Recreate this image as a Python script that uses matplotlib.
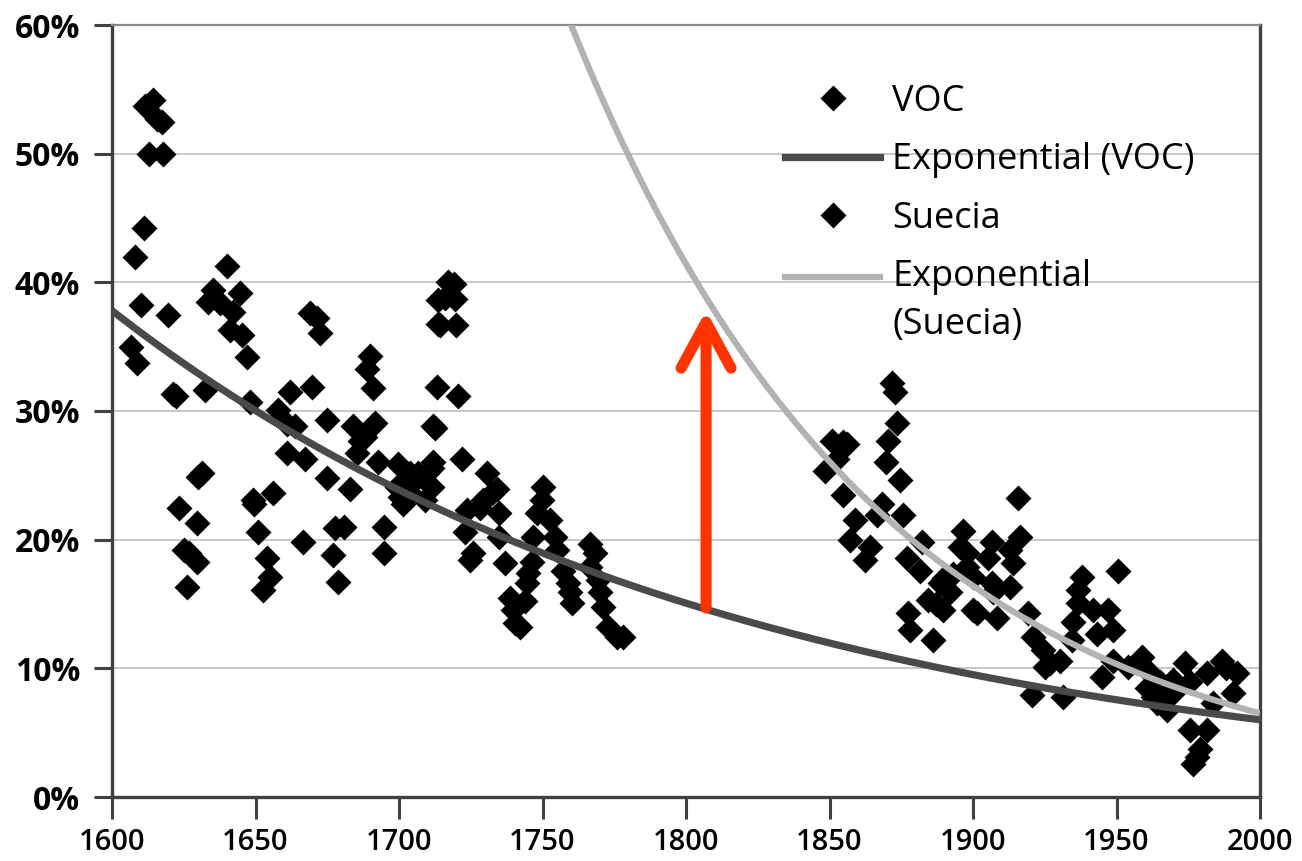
import numpy as np
import matplotlib
matplotlib.use("Agg")
import matplotlib.pyplot as plt
from matplotlib.ticker import PercentFormatter, MultipleLocator
from matplotlib.lines import Line2D
from matplotlib.legend_handler import HandlerLine2D
from matplotlib.patches import FancyArrowPatch, ArrowStyle

plt.rcParams['font.family'] = ['Open Sans', 'DejaVu Sans']

# ---------------- data (year, yield %) ----------------
voc_year = [1606.6, 1608.7, 1608.0, 1611.0, 1610.0, 1611.5, 1614.3, 1615.8, 1617.5, 1613.0,
            1617.8, 1619.5, 1621.3, 1622.3, 1632.4, 1640.0, 1635.2, 1637.6, 1644.6, 1633.5,
            1642.0, 1641.0, 1645.3, 1647.0, 1669.0, 1671.4, 1672.5, 1690.0, 1688.8, 1691.0,
            1669.7, 1662.0, 1648.0, 1657.8, 1663.8, 1675.0, 1684.0, 1688.0, 1691.6, 1685.4,
            1661.0, 1667.2, 1675.0, 1683.0, 1692.7, 1699.6, 1702.8, 1709.8, 1700.3, 1711.8,
            1713.2, 1713.6, 1713.6, 1631.4, 1630.0, 1649.0, 1656.0, 1629.6, 1623.3, 1651.0,
            1666.5, 1677.7, 1681.0, 1694.8, 1677.0, 1694.8, 1678.7, 1654.0, 1655.0, 1652.6,
            1627.0, 1625.0, 1629.6, 1626.0, 1649.5, 1661.0, 1717.0, 1719.0, 1716.0, 1719.5,
            1714.3, 1720.0, 1720.6, 1712.5, 1722.0, 1686.4, 1699.3, 1703.8, 1706.6, 1711.8,
            1711.5, 1709.0, 1701.4, 1730.7, 1732.4, 1723.7, 1728.2, 1723.0, 1725.8, 1724.7,
            1711.5, 1703.8, 1734.0, 1729.3, 1735.0, 1735.0, 1737.0, 1738.7, 1739.7, 1742.0,
            1740.4, 1745.0, 1746.3, 1744.6, 1743.9, 1746.7, 1750.2, 1749.8, 1748.0, 1752.6,
            1754.4, 1755.0, 1757.0, 1758.9, 1759.6, 1760.3, 1766.6, 1768.3, 1766.6, 1769.3,
            1770.0, 1771.0, 1772.8, 1776.0, 1778.0, 1705.0]
voc_pct = [35.0, 33.7, 42.0, 44.2, 38.2, 53.7, 54.2, 52.7, 52.5, 50.0,
           50.0, 37.5, 31.3, 31.2, 31.6, 41.3, 39.4, 38.4, 39.2, 38.5,
           37.7, 36.3, 35.9, 34.2, 37.6, 37.2, 36.1, 34.3, 33.3, 31.8,
           31.9, 31.5, 30.7, 30.1, 28.8, 29.3, 28.8, 28.0, 29.1, 26.7,
           26.7, 26.3, 24.8, 23.9, 26.0, 25.9, 24.6, 25.2, 23.3, 28.8,
           31.9, 36.8, 38.6, 25.2, 24.9, 23.1, 23.6, 21.3, 22.5, 20.6,
           19.8, 20.9, 21.0, 21.0, 18.8, 19.0, 16.7, 18.6, 17.1, 16.1,
           19.0, 19.2, 18.3, 16.3, 22.8, 29.0, 40.0, 39.9, 38.8, 38.7,
           36.7, 36.7, 31.2, 28.7, 26.3, 27.7, 24.1, 23.6, 25.2, 26.0,
           24.1, 23.1, 22.8, 25.2, 23.6, 22.3, 22.5, 20.6, 19.0, 18.4,
           25.6, 25.2, 23.9, 23.1, 22.1, 20.2, 18.2, 15.5, 14.5, 13.2,
           13.5, 17.4, 18.3, 16.6, 15.2, 20.2, 24.1, 23.1, 22.1, 21.5,
           20.2, 19.2, 17.6, 16.6, 15.9, 15.1, 19.7, 19.0, 17.9, 16.9,
           15.9, 14.8, 13.2, 12.4, 12.4, 24.5]

suecia_year = [1871.8, 1872.8, 1873.5, 1870.4, 1869.7, 1874.6, 1850.9, 1854.7, 1852.6, 1848.4,
               1854.7, 1868.3, 1866.5, 1875.6, 1858.9, 1857.0, 1864.0, 1862.4, 1882.2, 1877.0,
               1881.5, 1896.5, 1895.5, 1906.6, 1898.0, 1888.5, 1892.0, 1884.3, 1889.5, 1877.4,
               1878.0, 1886.0, 1900.0, 1905.2, 1907.0, 1915.7, 1916.4, 1898.0, 1913.0, 1914.0,
               1900.0, 1906.6, 1913.0, 1901.4, 1908.4, 1919.2, 1921.0, 1924.4, 1925.0, 1930.3,
               1920.6, 1931.4, 1938.0, 1936.6, 1934.8, 1941.8, 1947.0, 1943.2, 1948.8, 1934.5,
               1950.5, 1945.0, 1948.8, 1954.0, 1958.9, 1960.6, 1965.2, 1969.7, 1973.9, 1975.6,
               1964.0, 1967.6, 1962.7, 1981.5, 1986.8, 1992.0, 1990.6, 1983.6, 1975.6, 1981.5,
               1979.0, 1976.7, 1936.6, 1926.8, 1960.6, 1969.7, 1978.0, 1988.0, 1890.0, 1893.0,
               1887.0, 1853.5, 1856.0]
suecia_pct = [32.2, 31.5, 29.1, 27.7, 26.0, 24.6, 27.7, 27.6, 26.3, 25.3,
              23.5, 22.8, 21.9, 21.9, 21.5, 20.0, 19.4, 18.4, 19.8, 18.6,
              17.6, 20.7, 19.4, 19.8, 17.9, 16.6, 15.9, 15.3, 14.5, 14.3,
              13.0, 12.2, 14.5, 18.6, 15.9, 23.2, 20.2, 19.0, 19.2, 18.2,
              17.1, 16.6, 16.3, 14.3, 13.9, 14.3, 12.4, 11.4, 10.1, 10.6,
              7.9, 7.8, 17.1, 15.1, 13.6, 14.5, 14.5, 12.7, 13.0, 12.2,
              17.6, 9.3, 10.6, 10.1, 10.9, 9.9, 8.9, 9.1, 10.4, 8.9,
              7.3, 6.8, 7.8, 9.6, 10.6, 9.6, 8.1, 7.3, 5.2, 5.2,
              3.7, 2.6, 16.1, 10.4, 8.5, 8.1, 3.1, 10.0, 17.0, 17.3,
              15.0, 27.2, 27.4]

# exponential trend parameters
voc_trend_start, voc_trend_end = 1600, 2000
voc_trend_at_1600, voc_trend_rate = 37.8, -0.0046
sue_trend_start, sue_trend_end = 1759.5, 2000
sue_trend_at_2000, sue_trend_rate = 6.5, -0.00926

arrow_year, arrow_from, arrow_to = 1807, 14.7, 37.8

x_ticks = list(range(1600, 2001, 50))

# ---------------- figure ----------------
fig = plt.figure(figsize=(13.02, 8.61), dpi=100)
ax = fig.add_axes([112/1302, 1-797/861, (1260-112)/1302, (797-25)/861])

dark = '#404040'
ax.set_xlim(1600, 2000)
ax.set_ylim(0, 60)
ax.set_xticks(x_ticks)
ax.yaxis.set_major_locator(MultipleLocator(10))
ax.yaxis.set_major_formatter(PercentFormatter(decimals=0))
ax.grid(axis='y', color='#c4c4c4', lw=1.3, zorder=0)
ax.set_axisbelow(True)

for s in ['left', 'bottom', 'right']:
    ax.spines[s].set_color(dark)
    ax.spines[s].set_linewidth(2.4)
ax.spines['top'].set_color('#8a8a8a')
ax.spines['top'].set_linewidth(1.6)

ax.tick_params(axis='y', direction='out', length=13, width=2.2, color=dark,
               pad=10, labelsize=23)
ax.tick_params(axis='x', direction='out', length=16, width=2.2, color=dark,
               pad=6, labelsize=21)
for lab in ax.get_yticklabels():
    lab.set_fontweight('bold')
for lab in ax.get_xticklabels():
    lab.set_fontweight('semibold')

ms = 13
ax.plot(voc_year, voc_pct, 'D', color='black', ms=ms, mec='none', zorder=3, label='VOC')
ax.plot(suecia_year, suecia_pct, 'D', color='black', ms=ms, mec='none', zorder=3, label='Suecia')

xv = np.linspace(voc_trend_start, voc_trend_end, 400)
yv = voc_trend_at_1600 * np.exp(voc_trend_rate * (xv - 1600))
ax.plot(xv, yv, color='#4a4a4a', lw=5.2, solid_capstyle='butt', zorder=4)

xs = np.linspace(sue_trend_start, sue_trend_end, 400)
ys = sue_trend_at_2000 * np.exp(sue_trend_rate * (xs - 2000))
ax.plot(xs, ys, color='#b2b2b2', lw=4.5, solid_capstyle='butt', zorder=4)

arr = FancyArrowPatch((arrow_year, arrow_from), (arrow_year, arrow_to),
                      arrowstyle=ArrowStyle('->', head_length=33, head_width=18),
                      mutation_scale=1, lw=8, color='#ff3300',
                      shrinkA=0, shrinkB=0, capstyle='round', joinstyle='round', zorder=5)
ax.add_patch(arr)

# legend
class HandlerLineUp(HandlerLine2D):
    def __init__(self, shift=0.0, **kw):
        super().__init__(**kw)
        self.shift = shift
    def create_artists(self, legend, orig_handle, xdescent, ydescent, width, height, fontsize, trans):
        return super().create_artists(legend, orig_handle, xdescent,
                                      ydescent - 2 * self.shift * fontsize,
                                      width, height, fontsize, trans)

h_voc = Line2D([], [], marker='D', ls='none', color='black', ms=ms, mec='none')
h_sue = Line2D([], [], marker='D', ls='none', color='black', ms=ms, mec='none')
h_l1 = Line2D([], [], color='#4a4a4a', lw=5.2)
h_l2 = Line2D([], [], color='#b2b2b2', lw=4.5)
leg_fs = 26
leg = ax.legend([h_voc, h_l1, h_sue, h_l2],
                ['VOC', 'Exponential (VOC)', 'Suecia', 'Exponential\n(Suecia)'],
                loc='upper left', bbox_to_anchor=((785-112)/1148, (797-84)/772),
                frameon=False, fontsize=leg_fs, borderpad=0, borderaxespad=0,
                handlelength=95/(leg_fs*100/72), handletextpad=12/(leg_fs*100/72),
                labelspacing=0.62,
                handler_map={h_l2: HandlerLineUp(shift=0.69)})
for t in leg.get_texts():
    t.set_linespacing(1.45)

fig.savefig('out.png', dpi=100)
